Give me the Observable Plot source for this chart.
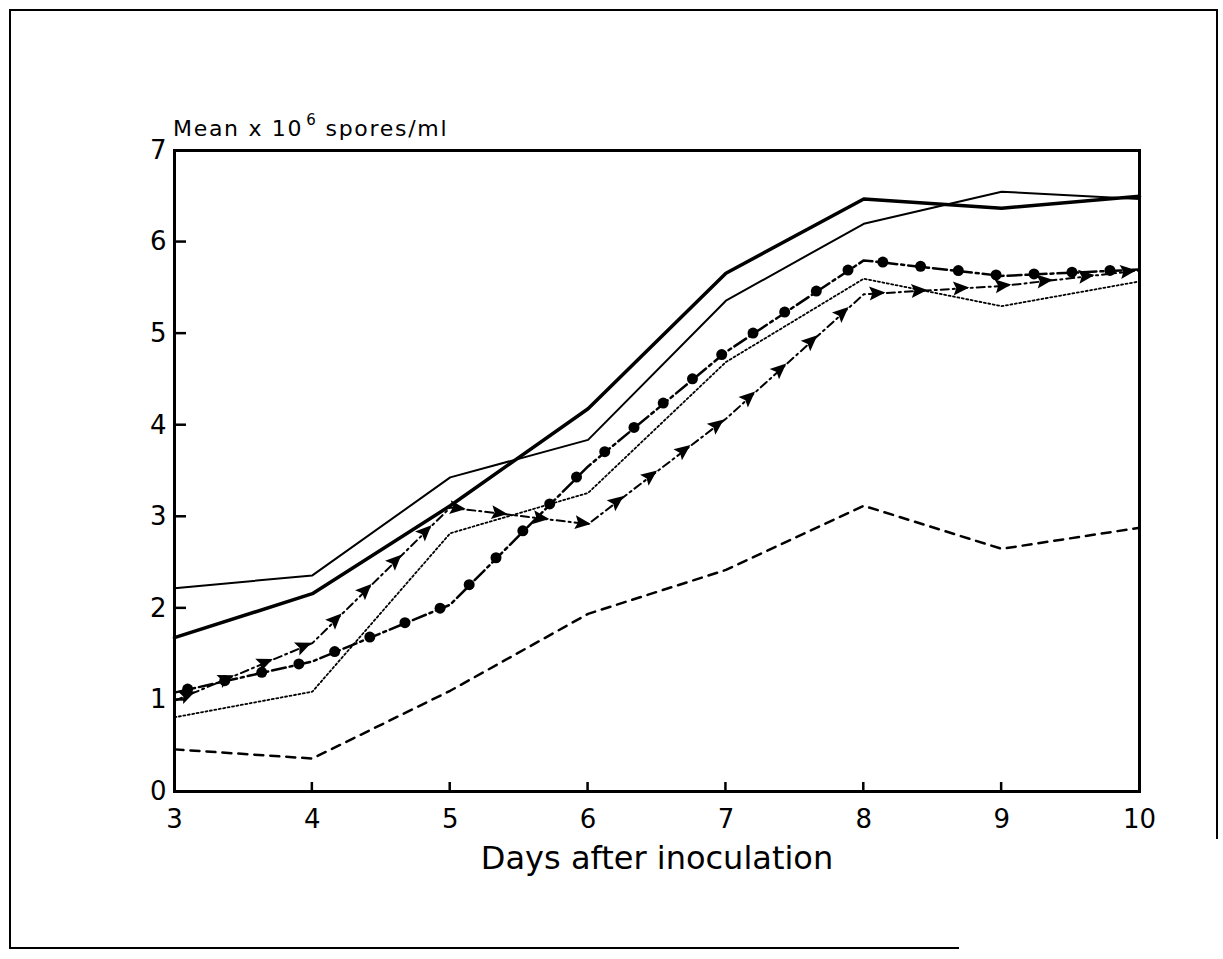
<!DOCTYPE html>
<html>
<head>
<meta charset="utf-8">
<script src="https://cdn.jsdelivr.net/npm/d3@7"></script>
<script src="https://cdn.jsdelivr.net/npm/@observablehq/plot@0.6"></script>
<style>
  body { margin: 0; background: #fff; }
  #wrap { position: relative; width: 1223px; height: 959px; overflow: hidden; }
  #wrap svg { position: absolute; left: 0; top: 0; }
  .ylab { position: absolute; left: 173px; top: 118px; font: 22px "DejaVu Sans", sans-serif; letter-spacing: 1.7px; line-height: 1; color: #000; white-space: nowrap; }
  .ylab .sup { position: relative; top: -11px; font-size: 15px; margin-left: 3px; margin-right: 8px; }
  .bl { position: absolute; background: #000; }
</style>
</head>
<body>
<div id="wrap">
  <div class="ylab">Mean x 10<span class="sup">6</span>spores/ml</div>
  <div class="bl" style="left:9px;top:9px;width:1209px;height:2px"></div>
  <div class="bl" style="left:9px;top:9px;width:2px;height:940px"></div>
  <div class="bl" style="left:1216px;top:9px;width:2px;height:830px"></div>
  <div class="bl" style="left:9px;top:947px;width:950px;height:2px"></div>
</div>
<script>
// ---- data ----
const days = [3, 4, 5, 6, 7, 8, 9, 10];
const seriesThick    = [1.68, 2.16, 3.12, 4.18, 5.66, 6.47, 6.37, 6.50];
const seriesThin     = [2.22, 2.36, 3.43, 3.84, 5.36, 6.20, 6.55, 6.47];
const seriesCircles  = [1.08, 1.42, 2.04, 3.55, 4.80, 5.80, 5.63, 5.70];
const seriesTriangle = [0.99, 1.62, 3.10, 2.92, 4.07, 5.43, 5.52, 5.69];
const seriesDotted   = [0.81, 1.09, 2.82, 3.26, 4.69, 5.60, 5.30, 5.57];
const seriesDashed   = [0.46, 0.36, 1.10, 1.94, 2.42, 3.12, 2.65, 2.88];
const xTicks = [3, 4, 5, 6, 7, 8, 9, 10];
const yTicks = [0, 1, 2, 3, 4, 5, 6, 7];
const xLabel = "Days after inoculation";

const xDomain = [xTicks[0], xTicks[xTicks.length - 1]];
const yDomain = [yTicks[0], yTicks[yTicks.length - 1]];

const toRows = (vals) => days.map((d, i) => ({day: d, v: vals[i]}));

const lineSpec = [
  {vals: seriesThick,    style: {strokeWidth: 3.5}},
  {vals: seriesThin,     style: {strokeWidth: 2}},
  {vals: seriesCircles,  style: {strokeWidth: 2.5, strokeDasharray: "14,4,3,4"}, marker: "circle"},
  {vals: seriesTriangle, style: {strokeWidth: 2, strokeDasharray: "8,4,2,4"}, marker: "triangle"},
  {vals: seriesDotted,   style: {strokeWidth: 1.8, strokeDasharray: "2,2.5"}},
  {vals: seriesDashed,   style: {strokeWidth: 2.5, strokeDasharray: "9,7"}}
];

const chart = Plot.plot({
  width: 1223,
  height: 959,
  marginLeft: 174,
  marginRight: 84,
  marginTop: 150,
  marginBottom: 168,
  style: {fontFamily: "'DejaVu Sans', sans-serif", background: "transparent", color: "#000"},
  x: {domain: xDomain, ticks: xTicks, label: null},
  y: {domain: yDomain, ticks: yTicks, label: null},
  marks: [
    Plot.axisX({ticks: xTicks, tickSize: 0, tickPadding: 18, fontSize: 26, label: null, tickFormat: d => String(d)}),
    Plot.axisY({ticks: yTicks, tickSize: 0, tickPadding: 8, fontSize: 26, label: null, tickFormat: d => String(d)}),
    ...lineSpec.map(s => Plot.line(toRows(s.vals), {x: "day", y: "v", stroke: "#000", strokeLinejoin: "round", ...s.style})),
    Plot.frame({strokeWidth: 3}),
    Plot.text([xLabel], {frameAnchor: "bottom", dy: 77, fontSize: 32, text: d => d})
  ]
});

document.getElementById("wrap").prepend(chart);

const svgNS = "http://www.w3.org/2000/svg";
const deco = document.createElementNS(svgNS, "g");
chart.appendChild(deco);

// inward tick marks, positioned through Plot's own scales
const sx = chart.scale("x"), sy = chart.scale("y");
const addLine = (x1, y1, x2, y2) => {
  const l = document.createElementNS(svgNS, "line");
  l.setAttribute("x1", x1); l.setAttribute("y1", y1);
  l.setAttribute("x2", x2); l.setAttribute("y2", y2);
  l.setAttribute("stroke", "#000"); l.setAttribute("stroke-width", 2.5);
  deco.appendChild(l);
};
const x0 = sx.apply(xDomain[0]), y0 = sy.apply(yDomain[0]);
yTicks.slice(1, -1).forEach(v => { const y = sy.apply(v); addLine(x0, y, x0 + 12, y); });
xTicks.slice(1, -1).forEach(v => { const x = sx.apply(v); addLine(x, y0, x, y0 - 9); });

// decorate marker lines with symbols placed along the drawn path
const linePaths = chart.querySelectorAll('g[aria-label="line"] path');
lineSpec.forEach((s, i) => {
  if (!s.marker) return;
  const path = linePaths[i];
  if (!path) return;
  const len = path.getTotalLength();
  const step = s.marker === "circle" ? 38 : 42;
  for (let t = 14; t < len - 4; t += step) {
    const p = path.getPointAtLength(t);
    const q = path.getPointAtLength(Math.min(len, t + 2));
    const a = Math.atan2(q.y - p.y, q.x - p.x) * 180 / Math.PI;
    if (s.marker === "circle") {
      const c = document.createElementNS(svgNS, "circle");
      c.setAttribute("cx", p.x); c.setAttribute("cy", p.y); c.setAttribute("r", 5.5);
      c.setAttribute("fill", "#000");
      deco.appendChild(c);
    } else {
      const tr = document.createElementNS(svgNS, "path");
      tr.setAttribute("d", "M9,0 L-7,-7 L-4,0 L-7,7 Z");
      tr.setAttribute("transform", `translate(${p.x},${p.y}) rotate(${a})`);
      tr.setAttribute("fill", "#000");
      deco.appendChild(tr);
    }
  }
});
</script>
</body>
</html>
